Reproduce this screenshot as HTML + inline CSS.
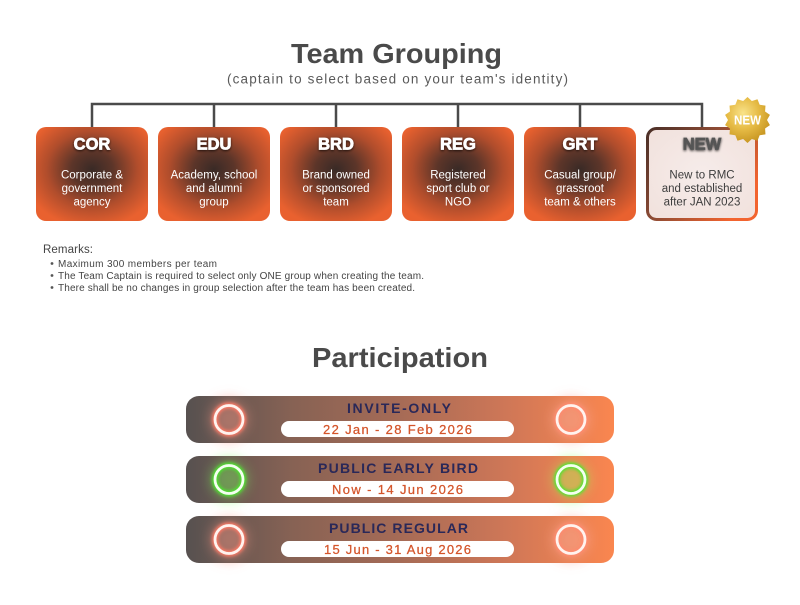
<!DOCTYPE html>
<html><head><meta charset="utf-8"><style>
html,body{margin:0;padding:0;background:#fff;}
svg{display:block;font-family:"Liberation Sans",sans-serif;}
</style></head><body>
<svg width="800" height="605" viewBox="0 0 800 605" xmlns="http://www.w3.org/2000/svg">
<defs>
  <radialGradient id="boxg" cx="0.5" cy="0.45" r="0.62">
    <stop offset="0" stop-color="#392a26"/>
    <stop offset="0.3" stop-color="#5c3529"/>
    <stop offset="0.65" stop-color="#b04d2c"/>
    <stop offset="1" stop-color="#e9612f"/>
  </radialGradient>
  <linearGradient id="newb" x1="0" y1="0" x2="1" y2="0.6">
    <stop offset="0" stop-color="#4a2f27"/>
    <stop offset="0.45" stop-color="#8a4a34"/>
    <stop offset="1" stop-color="#f2642f"/>
  </linearGradient>
  <radialGradient id="newf" cx="0.5" cy="0.5" r="0.7">
    <stop offset="0" stop-color="#f6ecea"/>
    <stop offset="1" stop-color="#f1e1dc"/>
  </radialGradient>
  <radialGradient id="gold" cx="0.4" cy="0.35" r="0.7">
    <stop offset="0" stop-color="#f9e38a"/>
    <stop offset="0.5" stop-color="#e6bb45"/>
    <stop offset="1" stop-color="#c4921e"/>
  </radialGradient>
  <linearGradient id="bar" x1="0" y1="0" x2="1" y2="0">
    <stop offset="0" stop-color="#575150"/>
    <stop offset="0.25" stop-color="#876254"/>
    <stop offset="0.5" stop-color="#a66b56"/>
    <stop offset="0.75" stop-color="#cf7757"/>
    <stop offset="1" stop-color="#fa864f"/>
  </linearGradient>
  <filter id="tsh" x="-30%" y="-50%" width="160%" height="200%">
    <feDropShadow dx="0" dy="1" stdDeviation="1.4" flood-color="#000" flood-opacity="0.75"/>
  </filter>
  <filter id="halo" x="-100%" y="-100%" width="300%" height="300%">
    <feGaussianBlur stdDeviation="6"/>
  </filter>
  <filter id="rg" x="-50%" y="-50%" width="200%" height="200%">
    <feGaussianBlur stdDeviation="1.6"/>
  </filter>
</defs>

<!-- Title -->
<text x="396.5" y="63" text-anchor="middle" font-size="28" font-weight="bold" fill="#4a4a4a" textLength="211" lengthAdjust="spacingAndGlyphs">Team Grouping</text>
<text x="397.5" y="83.5" text-anchor="middle" font-size="13.5" fill="#5a5a5a" textLength="341" lengthAdjust="spacing">(captain to select based on your team's identity)</text>

<!-- connectors -->
<g stroke="#4a4a4a" stroke-width="2.5" fill="none">
  <path d="M92,128 V104 H702 V128"/>
  <path d="M214,104 V128 M336,104 V128 M458,104 V128 M580,104 V128"/>
</g>

<!-- boxes -->
<g>
  <rect x="36" y="127" width="112" height="94" rx="10" fill="url(#boxg)"/>
  <rect x="158" y="127" width="112" height="94" rx="10" fill="url(#boxg)"/>
  <rect x="280" y="127" width="112" height="94" rx="10" fill="url(#boxg)"/>
  <rect x="402" y="127" width="112" height="94" rx="10" fill="url(#boxg)"/>
  <rect x="524" y="127" width="112" height="94" rx="10" fill="url(#boxg)"/>
  <rect x="647.5" y="128.5" width="109" height="91" rx="9" fill="url(#newf)" stroke="url(#newb)" stroke-width="3"/>
</g>

<g font-size="16.5" font-weight="bold" fill="#fff" stroke="#fff" stroke-width="0.7" text-anchor="middle" filter="url(#tsh)">
  <text x="92" y="149.5">COR</text>
  <text x="214" y="149.5">EDU</text>
  <text x="336" y="149.5">BRD</text>
  <text x="458" y="149.5">REG</text>
  <text x="580" y="149.5">GRT</text>
</g>
<text x="702" y="149.5" font-size="16.5" font-weight="bold" fill="#555" stroke="#555" stroke-width="0.7" text-anchor="middle" filter="url(#tsh)">NEW</text>

<g font-size="11.5" fill="#fff" text-anchor="middle">
  <text x="92" y="178.5">Corporate &amp;</text>
  <text x="92" y="192">government</text>
  <text x="92" y="205.5">agency</text>
  <text x="214" y="178.5">Academy, school</text>
  <text x="214" y="192">and alumni</text>
  <text x="214" y="205.5">group</text>
  <text x="336" y="178.5">Brand owned</text>
  <text x="336" y="192">or sponsored</text>
  <text x="336" y="205.5">team</text>
  <text x="458" y="178.5">Registered</text>
  <text x="458" y="192">sport club or</text>
  <text x="458" y="205.5">NGO</text>
  <text x="580" y="178.5">Casual group/</text>
  <text x="580" y="192">grassroot</text>
  <text x="580" y="205.5">team &amp; others</text>
</g>
<g font-size="11.5" fill="#3d3d3d" text-anchor="middle">
  <text x="702" y="178.5">New to RMC</text>
  <text x="702" y="192">and established</text>
  <text x="702" y="205.5">after JAN 2023</text>
</g>

<!-- badge -->
<polygon fill="url(#gold)" points="747.5,97 751.84,100.99 757.48,99.28 759.66,104.75 765.48,105.66 765.07,111.54 769.92,114.88 767,120 769.92,125.12 765.07,128.46 765.48,134.34 759.66,135.25 757.48,140.72 751.84,139.01 747.5,143 743.16,139.01 737.52,140.72 735.34,135.25 729.52,134.34 729.93,128.46 725.08,125.12 728,120 725.08,114.88 729.93,111.54 729.52,105.66 735.34,104.75 737.52,99.28 743.16,100.99"/>
<text x="747.5" y="124.5" text-anchor="middle" font-size="12.5" font-weight="bold" fill="#fff" textLength="27" lengthAdjust="spacingAndGlyphs">NEW</text>

<!-- remarks -->
<text x="43" y="253" font-size="11.5" fill="#444" textLength="50" lengthAdjust="spacing">Remarks:</text>
<g fill="#555">
  <circle cx="52" cy="263.5" r="1.4"/>
  <circle cx="52" cy="275.5" r="1.4"/>
  <circle cx="52" cy="287.5" r="1.4"/>
</g>
<g font-size="10" fill="#444">
  <text x="58" y="267" textLength="159" lengthAdjust="spacing">Maximum 300 members per team</text>
  <text x="58" y="279" textLength="366" lengthAdjust="spacing">The Team Captain is required to select only ONE group when creating the team.</text>
  <text x="58" y="291" textLength="357" lengthAdjust="spacing">There shall be no changes in group selection after the team has been created.</text>
</g>

<!-- Participation -->
<text x="400" y="367" text-anchor="middle" font-size="28" font-weight="bold" fill="#4a4a4a" textLength="176" lengthAdjust="spacingAndGlyphs">Participation</text>

<!-- halos behind bars -->
<g filter="url(#halo)">
  <circle cx="229" cy="419.5" r="22" fill="#ff8a78" opacity="0.35"/>
  <circle cx="571" cy="419.5" r="22" fill="#ff8a78" opacity="0.35"/>
  <circle cx="229" cy="479.5" r="22" fill="#7cff5a" opacity="0.35"/>
  <circle cx="571" cy="479.5" r="22" fill="#7cff5a" opacity="0.35"/>
  <circle cx="229" cy="539.5" r="22" fill="#ff8a78" opacity="0.35"/>
  <circle cx="571" cy="539.5" r="22" fill="#ff8a78" opacity="0.35"/>
</g>

<!-- bars -->
<rect x="186" y="396" width="428" height="47" rx="13" fill="url(#bar)"/>
<rect x="186" y="456" width="428" height="47" rx="13" fill="url(#bar)"/>
<rect x="186" y="516" width="428" height="47" rx="13" fill="url(#bar)"/>

<!-- inner halos -->
<g filter="url(#halo)" opacity="0.85">
  <circle cx="229" cy="419.5" r="19" fill="#ff9a88" opacity="0.5"/>
  <circle cx="571" cy="419.5" r="19" fill="#ffb0a0" opacity="0.5"/>
  <circle cx="229" cy="479.5" r="19" fill="#7cff5a" opacity="0.45"/>
  <circle cx="571" cy="479.5" r="19" fill="#a8ff5a" opacity="0.45"/>
  <circle cx="229" cy="539.5" r="19" fill="#ff9a88" opacity="0.5"/>
  <circle cx="571" cy="539.5" r="19" fill="#ffb0a0" opacity="0.5"/>
</g>

<!-- rings -->
<g fill="none" stroke-width="6" filter="url(#rg)">
  <circle cx="229" cy="419.5" r="14" stroke="#ff7a66"/>
  <circle cx="571" cy="419.5" r="14" stroke="#ff8a70"/>
  <circle cx="229" cy="479.5" r="14" stroke="#4ee82e"/>
  <circle cx="571" cy="479.5" r="14" stroke="#4ee82e"/>
  <circle cx="229" cy="539.5" r="14" stroke="#ff7a66"/>
  <circle cx="571" cy="539.5" r="14" stroke="#ff8a70"/>
</g>
<g fill="none" stroke-width="2.8">
  <circle cx="229" cy="419.5" r="14" stroke="#fff3ee"/>
  <circle cx="571" cy="419.5" r="14" stroke="#fff3ee"/>
  <circle cx="229" cy="479.5" r="14" stroke="#f4fff0"/>
  <circle cx="571" cy="479.5" r="14" stroke="#f4fff0"/>
  <circle cx="229" cy="539.5" r="14" stroke="#fff3ee"/>
  <circle cx="571" cy="539.5" r="14" stroke="#fff3ee"/>
</g>

<!-- labels -->
<g font-size="14" font-weight="bold" fill="#2a2858" text-anchor="middle">
  <text x="399" y="413" textLength="104" lengthAdjust="spacing">INVITE-ONLY</text>
  <text x="398" y="473" textLength="160" lengthAdjust="spacing">PUBLIC EARLY BIRD</text>
  <text x="398.5" y="533" textLength="139" lengthAdjust="spacing">PUBLIC REGULAR</text>
</g>
<g fill="#fff">
  <rect x="281" y="421" width="233" height="16" rx="8"/>
  <rect x="281" y="481" width="233" height="16" rx="8"/>
  <rect x="281" y="541" width="233" height="16" rx="8"/>
</g>
<g font-size="13" fill="#d4552b" text-anchor="middle" stroke="#d4552b" stroke-width="0.25">
  <text x="397.5" y="434" textLength="149" lengthAdjust="spacing">22 Jan - 28 Feb 2026</text>
  <text x="397.5" y="494" textLength="131" lengthAdjust="spacing">Now - 14 Jun 2026</text>
  <text x="397.5" y="554" textLength="147" lengthAdjust="spacing">15 Jun - 31 Aug 2026</text>
</g>
</svg>
</body></html>
